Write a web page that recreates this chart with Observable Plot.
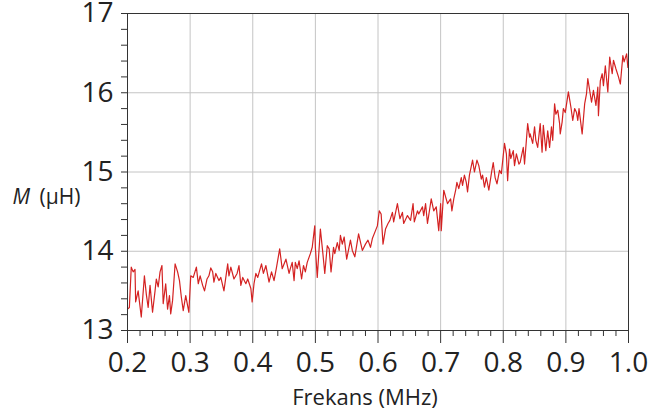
<!DOCTYPE html>
<html>
<head>
<meta charset="utf-8">
<script src="https://cdn.jsdelivr.net/npm/d3@7"></script>
<script src="https://cdn.jsdelivr.net/npm/@observablehq/plot@0.6"></script>
<style>
  html, body { margin: 0; padding: 0; background: #fff; }
  #chart { width: 648px; height: 414px; }
</style>
</head>
<body>
<div id="chart"></div>
<script>
// Frequency (MHz)
const freq = [
  0.200,0.203,0.206,0.209,0.212,0.213,0.217,0.222,0.227,0.230,0.233,0.236,0.240,0.244,0.246,0.249,0.252,0.255,0.257,0.261,
  0.264,0.267,0.269,0.272,0.276,0.280,0.283,0.286,0.289,0.293,0.298,0.301,0.305,0.310,0.313,0.316,0.320,0.323,0.327,0.330,
  0.333,0.336,0.338,0.341,0.346,0.349,0.354,0.360,0.362,0.365,0.370,0.375,0.378,0.381,0.384,0.389,0.392,0.397,0.399,0.402,
  0.405,0.408,0.414,0.417,0.421,0.426,0.430,0.434,0.438,0.443,0.447,0.453,0.458,0.460,
  0.463,0.466,0.468,0.471,0.474,0.478,0.481,0.484,0.487,0.492,0.495,0.499,0.500,0.503,0.508,0.512,0.515,0.519,0.522,0.525,
  0.529,0.531,0.535,0.538,0.540,0.543,0.546,0.550,0.556,0.559,0.563,0.569,0.575,0.580,0.584,0.588,
  0.591,0.596,0.599,0.602,0.605,0.608,0.612,0.616,0.619,0.623,0.625,0.631,0.635,0.639,0.641,0.647,0.652,0.656,0.658,0.663,
  0.665,0.671,0.673,0.676,0.679,0.685,0.689,0.693,0.697,0.700,0.701,0.705,0.711,0.716,
  0.718,0.721,0.724,0.726,0.729,0.733,0.735,0.738,0.741,0.743,0.746,0.751,0.754,0.758,0.761,0.765,0.767,0.770,0.773,0.777,
  0.781,0.784,0.787,0.790,0.794,0.797,0.802,0.805,0.807,0.810,0.812,0.816,0.818,0.821,0.825,0.827,0.832,0.834,0.839,0.842,0.843,
  0.847,0.850,0.852,0.855,0.859,0.862,0.864,0.868,0.871,0.874,0.877,0.879,0.882,0.884,0.887,0.890,0.891,0.894,0.896,0.899,
  0.904,0.908,0.911,0.914,0.917,0.919,0.921,0.926,0.930,0.933,0.935,0.938,0.941,0.944,0.948,0.951,0.952,0.955,0.958,0.960,
  0.963,0.967,0.970,0.974,0.976,0.980,0.984,0.987,0.991,0.993,0.997,0.999,1.000
];
// Mutual inductance M (µH)
const M = [
  13.27,13.29,13.80,13.74,13.77,13.36,13.50,13.17,13.69,13.46,13.29,13.57,13.23,13.50,13.65,13.55,13.74,13.82,13.34,13.59,
  13.27,13.44,13.21,13.38,13.84,13.74,13.63,13.42,13.25,13.44,13.23,13.69,13.67,13.80,13.59,13.69,13.57,13.50,13.65,13.69,
  13.79,13.74,13.61,13.72,13.63,13.67,13.50,13.84,13.69,13.80,13.65,13.72,13.82,13.57,13.67,13.59,13.65,13.53,13.36,13.59,
  13.72,13.67,13.84,13.72,13.82,13.61,13.74,13.63,13.80,14.03,13.78,13.90,13.72,13.78,
  13.86,13.63,13.86,13.78,13.88,13.65,13.82,13.74,13.86,13.97,14.05,14.32,14.05,13.67,14.28,13.97,13.72,14.07,14.03,13.74,
  14.05,13.97,14.11,14.01,14.20,14.09,14.18,13.90,14.14,14.01,13.93,14.22,14.01,14.09,14.14,14.05,
  14.16,14.26,14.32,14.51,14.47,14.09,14.28,14.35,14.39,14.49,14.37,14.60,14.41,14.49,14.35,14.45,14.39,14.60,14.37,14.51,
  14.47,14.56,14.45,14.60,14.35,14.66,14.51,14.56,14.26,14.60,14.26,14.77,14.60,14.66,
  14.51,14.66,14.77,14.87,14.79,14.93,14.83,14.96,14.87,14.75,14.96,15.15,15.00,15.15,15.08,14.91,14.96,14.81,14.93,14.77,
  14.98,15.12,14.93,14.85,15.02,14.98,15.36,15.23,14.89,15.29,15.17,15.27,15.08,15.23,15.10,15.12,15.31,15.10,15.61,15.44,15.48,
  15.36,15.57,15.40,15.31,15.61,15.25,15.59,15.27,15.52,15.31,15.57,15.40,15.86,15.73,15.78,15.61,15.48,15.63,15.80,15.75,
  16.01,15.82,15.65,15.80,15.75,15.65,15.80,15.48,15.86,15.99,16.18,16.03,15.88,16.03,15.84,16.07,15.71,16.15,16.24,16.09,
  16.34,16.01,16.45,16.24,16.41,16.30,16.20,16.11,16.47,16.39,16.49,16.32,16.35
];
const xMajorTicks = [0.2, 0.3, 0.4, 0.5, 0.6, 0.7, 0.8, 0.9, 1.0];
const xMinorTicks = d3.range(0, 41).map(i => 0.2 + i * 0.02).filter((d, i) => i % 5 !== 0);
const yMajorTicks = [13, 14, 15, 16, 17];
const yMinorTicks = d3.range(0, 21).map(i => 13 + i * 0.2).filter((d, i) => i % 5 !== 0);
const xLabel = "Frekans (MHz)";
const yLabelSymbol = "M";
const yLabelUnit = "(µH)";

const data = freq.map((f, i) => ({f, m: M[i]}));
const font = "'Open Sans', 'Noto Sans', sans-serif";
const grid = "#c4c4c4";
const ink = "#222";

const chart = Plot.plot({
  width: 648,
  height: 414,
  marginLeft: 127,
  marginRight: 20,
  marginTop: 13,
  marginBottom: 84,
  style: {background: "#fff", fontFamily: font, color: ink},
  x: {domain: [0.2, 1.0]},
  y: {domain: [13, 17]},
  marks: [
    Plot.gridX(xMajorTicks.slice(1, -1), {stroke: grid, strokeOpacity: 1, strokeWidth: 1}),
    Plot.gridY(yMajorTicks.slice(1, -1), {stroke: grid, strokeOpacity: 1, strokeWidth: 1}),
    Plot.line(data, {x: "f", y: "m", stroke: "#d42222", strokeWidth: 1.2}),
    Plot.frame({stroke: "#333", strokeWidth: 1}),
    Plot.axisY(yMajorTicks, {tickSize: 6, tickPadding: 8, fontSize: 28, tickFormat: d => String(d), label: null, stroke: "#333"}),
    Plot.axisY(yMinorTicks, {tickSize: 6, tickFormat: () => "", label: null, stroke: "#333"}),
    Plot.axisX(xMajorTicks, {tickSize: 13, tickPadding: 9, fontSize: 28, tickFormat: d3.format(".1f"), label: null, stroke: "#333"}),
    Plot.axisX(xMinorTicks, {tickSize: 6, tickFormat: () => "", label: null, stroke: "#333"}),
    Plot.text([xLabel], {frameAnchor: "bottom", dx: -13, dy: 74, fontSize: 22, fill: ink}),
    Plot.text([yLabelSymbol], {frameAnchor: "left", textAnchor: "start", dx: -115, dy: 25, fontSize: 21, fontStyle: "italic", fill: ink}),
    Plot.text([yLabelUnit], {frameAnchor: "left", textAnchor: "start", dx: -88, dy: 25, fontSize: 21, fill: ink})
  ]
});
document.getElementById("chart").appendChild(chart);
</script>
</body>
</html>
